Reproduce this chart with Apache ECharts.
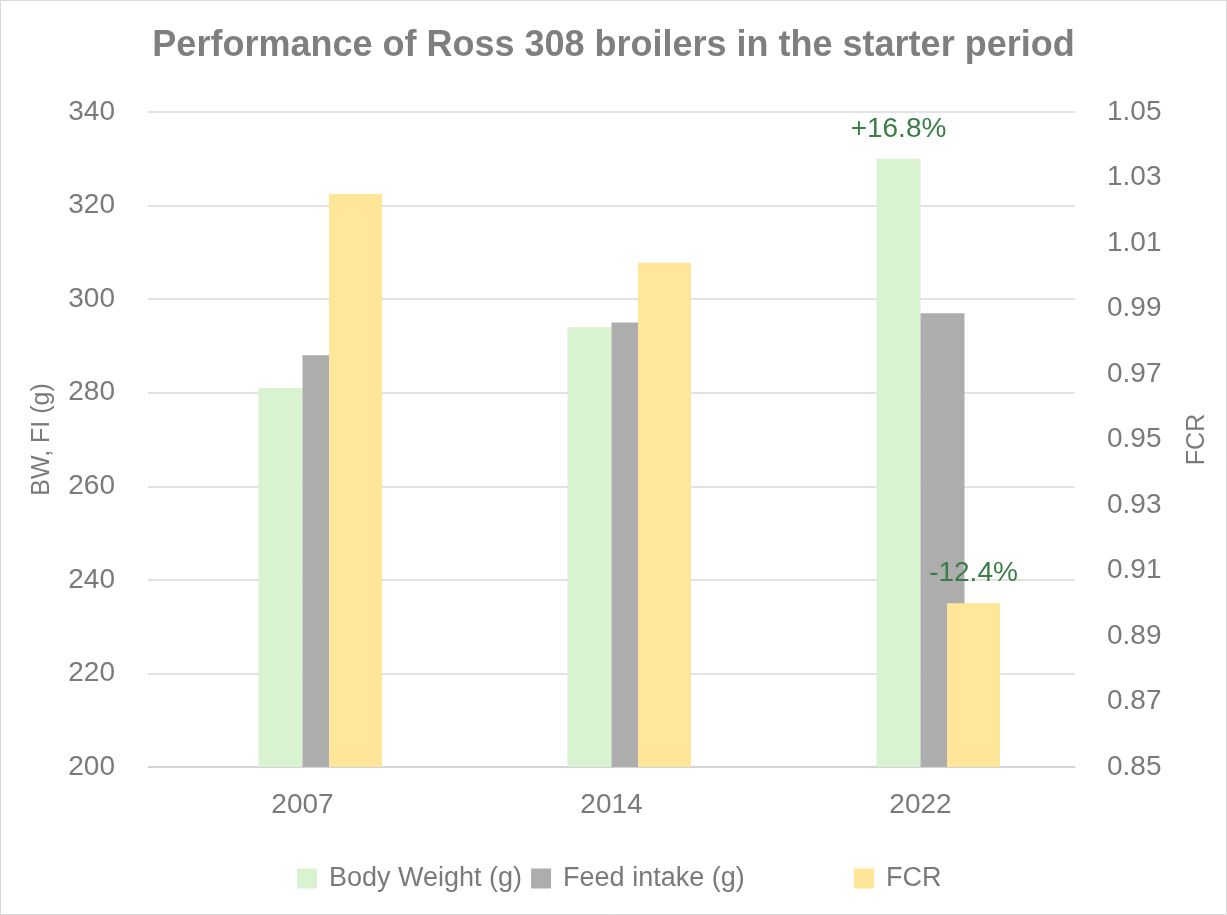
<!DOCTYPE html>
<html>
<head>
<meta charset="utf-8">
<script src="https://cdn.jsdelivr.net/npm/echarts@6/dist/echarts.min.js"></script>
<style>
html, body { margin: 0; padding: 0; background: #fff; }
#chart { width: 1227px; height: 915px; }
</style>
</head>
<body>
<div id="chart"></div>
<script>
var years = ['2007', '2014', '2022'];
var bodyWeight = [281, 294, 330];
var feedIntake = [288, 295, 297];
var fcr = [1.025, 1.004, 0.900];
var leftTicks = { min: 200, max: 340, step: 20 };
var rightTicks = { min: 0.85, max: 1.05, step: 0.02 };

var font = '"Liberation Sans", Arial, sans-serif';
var txt = '#7a7a7a';

var chart = echarts.init(document.getElementById('chart'));
var option = {
    backgroundColor: '#fff',
    animation: false,
    textStyle: { fontFamily: font },
    title: {
        text: 'Performance of Ross 308 broilers in the starter period',
        left: 'center',
        top: 23,
        textStyle: { color: '#7f7f7f', fontSize: 36, fontWeight: 'bold', fontFamily: font }
    },
    graphic: [{
        type: 'rect',
        shape: { x: 0.5, y: 0.5, width: 1226, height: 914 },
        style: { fill: 'none', stroke: '#d9d9d9', lineWidth: 1 },
        silent: true
    }],
    legend: [{
        data: ['Body Weight (g)', 'Feed intake (g)'],
        left: 292, top: 860,
        itemWidth: 20, itemHeight: 20, itemGap: 9,
        icon: 'rect',
        textStyle: { color: txt, fontSize: 27, fontFamily: font, padding: [0, 0, 0, 7] }
    }, {
        data: ['FCR'],
        left: 849, top: 860,
        itemWidth: 20, itemHeight: 20,
        icon: 'rect',
        textStyle: { color: txt, fontSize: 27, fontFamily: font, padding: [0, 0, 0, 7] }
    }],
    grid: { left: 148, right: 152, top: 112, bottom: 148 },
    xAxis: [{
        type: 'category',
        data: years,
        axisLine: { lineStyle: { color: '#d0d0d0', width: 1.5 } },
        axisTick: { show: false },
        axisLabel: { color: txt, fontSize: 28, margin: 24 }
    }, {
        type: 'category',
        data: years,
        show: false
    }],
    yAxis: [{
        type: 'value',
        min: leftTicks.min, max: leftTicks.max, interval: leftTicks.step,
        name: 'BW, FI (g)',
        nameLocation: 'middle',
        nameGap: 93,
        nameTextStyle: { color: txt, fontSize: 25 },
        axisLine: { show: false },
        axisTick: { show: false },
        axisLabel: { color: txt, fontSize: 28, margin: 33 },
        splitLine: { lineStyle: { color: '#d9d9d9', width: 1.5 } }
    }, {
        type: 'value',
        min: rightTicks.min, max: rightTicks.max, interval: rightTicks.step,
        name: 'FCR',
        nameLocation: 'middle',
        nameGap: 110,
        nameRotate: 90,
        nameTextStyle: { color: txt, fontSize: 25 },
        axisLine: { show: false },
        axisTick: { show: false },
        axisLabel: { color: txt, fontSize: 28, margin: 32, formatter: function (v) { return v.toFixed(2); } },
        splitLine: { show: false }
    }],
    series: [{
        name: 'Body Weight (g)',
        type: 'bar',
        xAxisIndex: 0, yAxisIndex: 0,
        data: [bodyWeight[0], bodyWeight[1], {
            value: bodyWeight[2],
            label: { show: true, position: 'top', distance: 16, formatter: '+16.8%', color: '#3a7d47', fontSize: 28 }
        }],
        barWidth: 44,
        barGap: 0,
        itemStyle: { color: '#d9f2d0' }
    }, {
        name: 'Feed intake (g)',
        type: 'bar',
        xAxisIndex: 0, yAxisIndex: 0,
        data: feedIntake,
        barWidth: 44,
        barGap: 0,
        itemStyle: { color: '#adadad' }
    }, {
        name: 'spacer',
        type: 'bar',
        xAxisIndex: 1, yAxisIndex: 1,
        data: [null, null, null],
        barWidth: 53,
        barGap: '100%'
    }, {
        name: 'FCR',
        type: 'bar',
        xAxisIndex: 1, yAxisIndex: 1,
        data: [fcr[0], fcr[1], {
            value: fcr[2],
            label: { show: true, position: 'top', distance: 16, formatter: '-12.4%', color: '#3a7d47', fontSize: 28 }
        }],
        barWidth: 53,
        barGap: '100%',
        itemStyle: { color: '#ffe699' }
    }]
};
chart.setOption(option);
window.onresize = chart.resize;
</script>
</body>
</html>
